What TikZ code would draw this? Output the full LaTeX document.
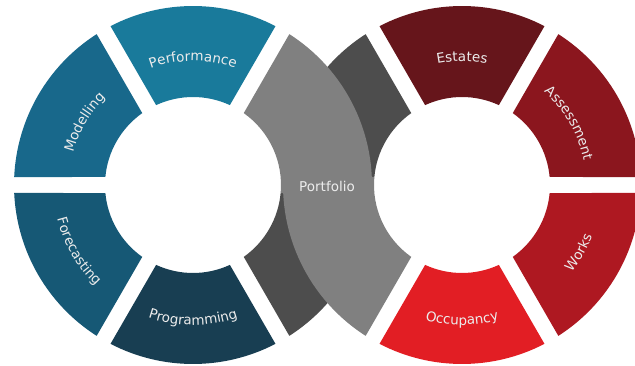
\documentclass[tikz,border=0pt]{standalone}
\usepackage{fontspec}
\setmainfont{DejaVu Sans}
\usepackage{tikz}
\usetikzlibrary{decorations.text}
\definecolor{perfblue}{RGB}{25,122,155}
\definecolor{modblue}{RGB}{24,104,139}
\definecolor{foreblue}{RGB}{22,88,117}
\definecolor{progblue}{RGB}{24,62,82}
\definecolor{estred}{RGB}{102,21,27}
\definecolor{assred}{RGB}{139,22,30}
\definecolor{workred}{RGB}{174,24,33}
\definecolor{occred}{RGB}{226,30,36}
\definecolor{portgray}{RGB}{128,128,128}
\definecolor{shadegray}{RGB}{77,77,77}
\definecolor{labeltext}{RGB}{236,236,236}
\newcommand{\Rout}{179}
\newcommand{\Rin}{88}
\newcommand{\gapout}{2.56}
\newcommand{\gapin}{5.22}
\newcommand{\labelfont}{\fontsize{13.5}{16}\selectfont}
\newcommand{\ringseg}[4]{\fill[#4,shift={(#1)}] ({#2+\gapout}:\Rout) arc[start angle={#2+\gapout}, end angle={#3-\gapout}, radius=\Rout] -- ({#3-\gapin}:\Rin) arc[start angle={#3-\gapin}, end angle={#2+\gapin}, radius=\Rin] -- cycle;}
\newcommand{\uplabel}[3]{\path[shift={(#1)},decorate,decoration={text along path,text align=center,text color=labeltext,text={|\labelfont|#3}}] ({#2+40}:124) arc[start angle={#2+40}, end angle={#2-40}, radius=124];}
\newcommand{\lowlabel}[3]{\path[shift={(#1)},decorate,decoration={text along path,text align=center,text color=labeltext,text={|\labelfont|#3}}] ({#2-40}:140) arc[start angle={#2-40}, end angle={#2+40}, radius=140];}

\begin{document}
\begin{tikzpicture}[x=1pt,y=1pt]
\useasboundingbox (0,0) rectangle (635,365);
\clip (0,0) rectangle (635,365);
\coordinate (cl) at (193,180);
\coordinate (cr) at (462,180);
%left ring
\ringseg{cl}{60}{120}{perfblue}
\ringseg{cl}{120}{180}{modblue}
\ringseg{cl}{180}{240}{foreblue}
\ringseg{cl}{240}{300}{progblue}
%right ring
\ringseg{cr}{60}{120}{estred}
\ringseg{cr}{0}{60}{assred}
\ringseg{cr}{300}{360}{workred}
\ringseg{cr}{240}{300}{occred}
%grey bands underneath
\ringseg{cl}{300}{360}{shadegray}
\ringseg{cr}{120}{180}{shadegray}
%portfolio band on top
\fill[portgray,shift={(cl)}] ({-\gapout}:\Rout) arc[start angle={-\gapout}, end angle={60-\gapout}, radius=\Rout] -- ({60-\gapin}:\Rin) arc[start angle={60-\gapin}, end angle={-\gapin}, radius=\Rin] -- cycle;
\fill[portgray,shift={(cr)}] ({180-\gapout}:\Rout) arc[start angle={180-\gapout}, end angle={240-\gapout}, radius=\Rout] -- ({240-\gapin}:\Rin) arc[start angle={240-\gapin}, end angle={180-\gapin}, radius=\Rin] -- cycle;
\node[text=labeltext,font=\labelfont] (portfolio) at (327,179) {Portfolio};
%labels
\uplabel{cl}{90}{Performance}
\uplabel{cl}{150}{Modelling}
\lowlabel{cl}{210}{Forecasting}
\lowlabel{cl}{270}{Programming}
\uplabel{cr}{90}{Estates}
\uplabel{cr}{30}{Assessment}
\lowlabel{cr}{330}{Works}
\lowlabel{cr}{270}{Occupancy}
\end{tikzpicture}
\end{document}
